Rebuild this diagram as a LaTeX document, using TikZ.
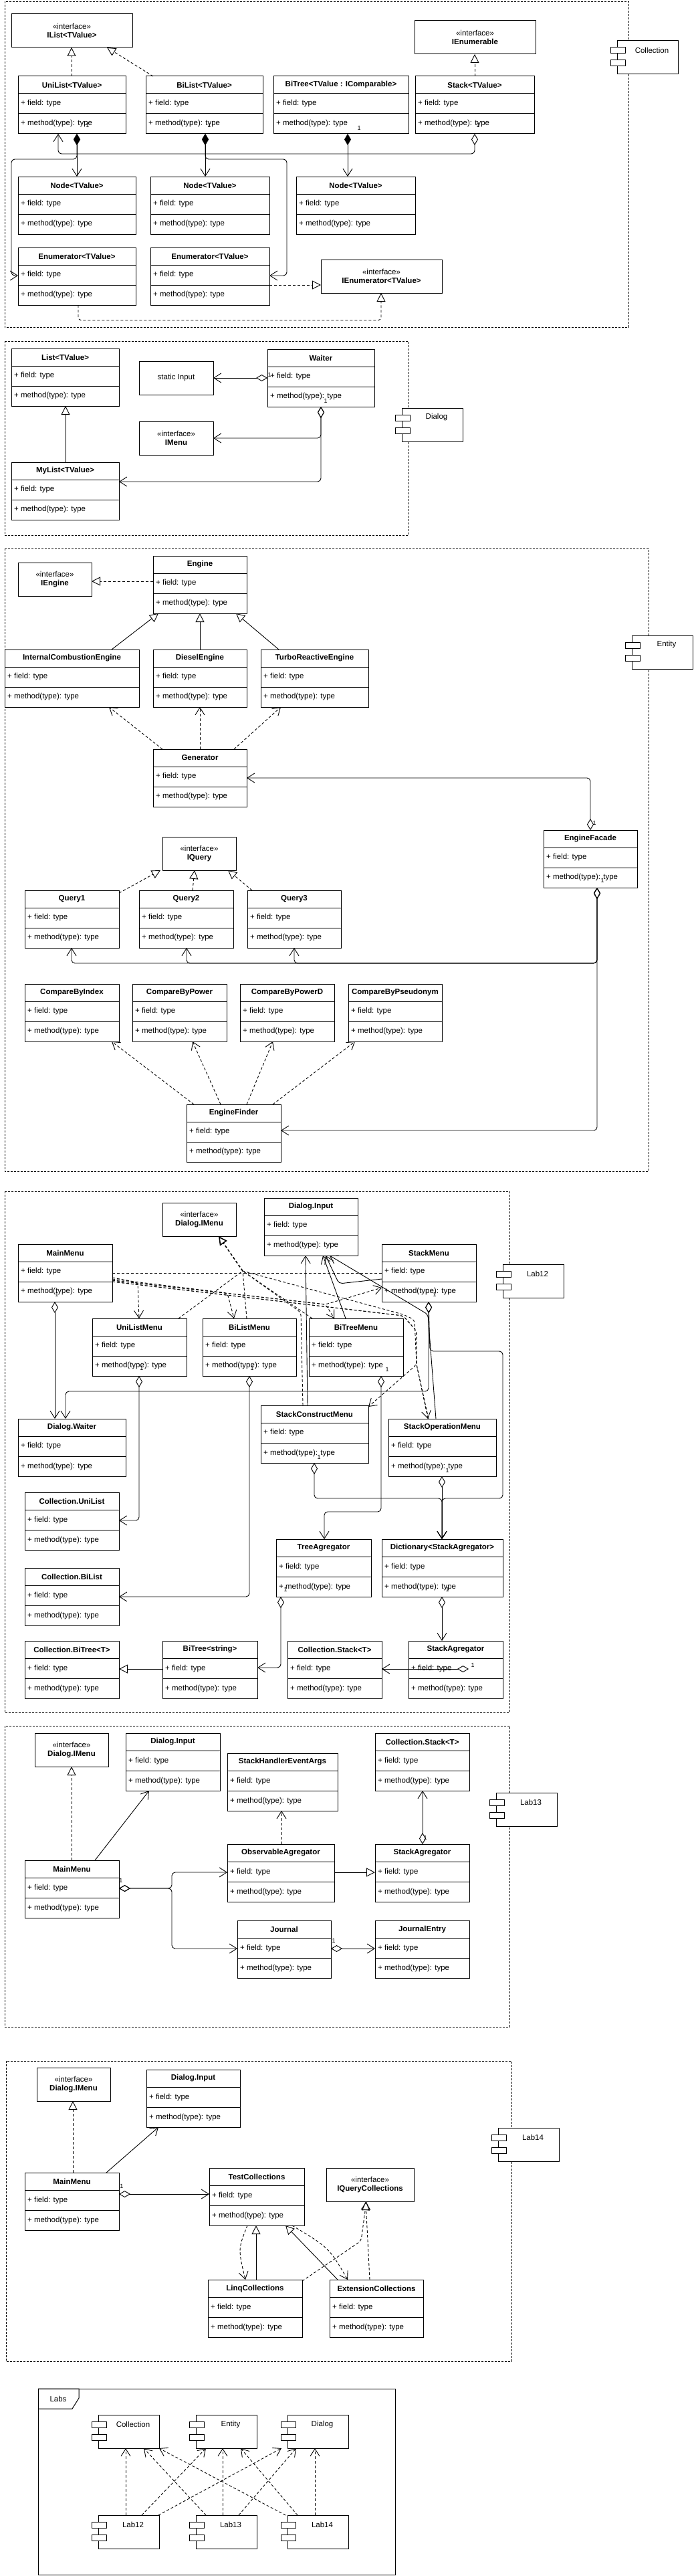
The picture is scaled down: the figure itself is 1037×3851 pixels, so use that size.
\documentclass[tikz,border=0pt]{standalone}
\usepackage{fontspec}
\setmainfont{Liberation Sans}
\usetikzlibrary{arrows.meta, positioning}
\newcommand{\umlfont}{\fontsize{11.5pt}{13.5pt}\selectfont}
\tikzset{
  barb/.tip={Straight Barb[length=11pt,width=14pt]},
  tri/.tip={Triangle[open,length=13pt,width=13pt]},
  odia/.tip={Diamond[open,length=17pt,width=10pt]},
  fdia/.tip={Diamond[length=17pt,width=10pt]},
  box/.style={draw, line width=1pt, fill=white, inner sep=0pt, outer sep=0pt, anchor=north west},
  classbox/.style={box, minimum height=86pt},
  ifacebox/.style={box, align=center, font=\umlfont},
  compbox/.style={box, minimum width=91pt, minimum height=50pt},
  classtitle/.style={font=\umlfont\bfseries, inner sep=0pt},
  member/.style={font=\umlfont, anchor=west, inner sep=0pt},
  mult/.style={font=\fontsize{9pt}{10pt}\selectfont, inner sep=0pt},
  frame/.style={draw, line width=0.8pt, dash pattern=on 3pt off 2pt},
  link/.style={draw, line width=0.9pt, rounded corners=5pt},
  assoc/.style={link, -barb},
  depend/.style={link, dash pattern=on 4pt off 3pt, -barb},
  dashline/.style={link, dash pattern=on 4pt off 3pt},
  realize/.style={link, dash pattern=on 4pt off 3pt, -tri},
  inherit/.style={link, -tri},
  aggr/.style={link, odia-barb},
  compo/.style={link, fdia-barb},
}
\newcommand{\umlclass}[5]{%
  \node[classbox, minimum width=#4pt] (#1) at (#2,#3) {};
  \draw[line width=1pt] ([yshift=-26pt]#1.north west) -- ([yshift=-26pt]#1.north east)
    ([yshift=-56pt]#1.north west) -- ([yshift=-56pt]#1.north east);
  \node[classtitle] (#1-title) at ([yshift=-13pt]#1.north) {#5};
  \node[member] (#1-field) at ([xshift=4pt,yshift=-41pt]#1.north west) {+ field: type};
  \node[member] (#1-method) at ([xshift=4pt,yshift=-71pt]#1.north west) {+ method(type): type};
}
\newcommand{\umliface}[6]{%
  \node[ifacebox, minimum width=#4pt, minimum height=#5pt] (#1) at (#2,#3) {«interface»\\\textbf{#6}};
}
\newcommand{\umlcomp}[4]{%
  \node[compbox] (#1) at (#2,#3) {};
  \draw[line width=1pt, fill=white] ([xshift=-10pt,yshift=-10pt]#1.north west) rectangle ([xshift=12pt,yshift=-19pt]#1.north west)
    ([xshift=-10pt,yshift=-29pt]#1.north west) rectangle ([xshift=12pt,yshift=-38pt]#1.north west);
  \node[member, anchor=center] (#1-name) at ([xshift=52pt,yshift=-14pt]#1.north west) {#4};
}

\begin{document}
\begin{tikzpicture}[x=1pt, y=-1pt]
\useasboundingbox (0,0) rectangle (1037,3851);

\draw[frame] (7,2) rectangle (940,489);
\draw[frame] (7,510) rectangle (611,800);
\draw[frame] (7,820) rectangle (970,1751);
\draw[frame] (7,1781) rectangle (762,2560);
\draw[frame] (7,2580) rectangle (762,3030);
\draw[frame] (9,3081) rectangle (765,3530);

\umliface{iList}{17}{21}{181}{50}{IList<TValue>}
\umliface{iEnumerable}{620}{31}{181}{50}{IEnumerable}
\umlclass{uniList}{27}{114}{161}{UniList<TValue>}
\umlclass{biList}{218}{114}{175}{BiList<TValue>}
\umlclass{biTree}{409}{114}{202}{BiTree<TValue : IComparable>}
\umlclass{stack}{621}{114}{178}{Stack<TValue>}
\umlclass{nodeA}{27}{264}{176}{Node<TValue>}
\umlclass{nodeB}{225}{264}{178}{Node<TValue>}
\umlclass{nodeC}{443}{264}{178}{Node<TValue>}
\umlclass{enumA}{27}{370}{176}{Enumerator<TValue>}
\umlclass{enumB}{225}{370}{178}{Enumerator<TValue>}
\umliface{iEnumerator}{480}{388}{181}{50}{IEnumerator<TValue>}
\umlcomp{collectionComp}{923}{61}{Collection}

\umlclass{list}{17}{521}{161}{List<TValue>}
\node[ifacebox, minimum width=111pt, minimum height=50pt] (staticInput) at (208,540) {static Input};
\umlclass{waiter}{400}{522}{160}{Waiter}
\umliface{iMenu}{208}{630}{111}{50}{IMenu}
\umlclass{myList}{17}{691}{161}{MyList<TValue>}
\umlcomp{dialogComp}{601}{610}{Dialog}

\umliface{iEngine}{27}{841}{110}{50}{IEngine}
\umlclass{engine}{229}{831}{140}{Engine}
\umlclass{iceEngine}{7}{971}{201}{InternalCombustionEngine}
\umlclass{dieselEngine}{229}{971}{140}{DieselEngine}
\umlclass{turboEngine}{390}{971}{161}{TurboReactiveEngine}
\umlclass{generator}{229}{1120}{140}{Generator}
\umlclass{engineFacade}{813}{1241}{140}{EngineFacade}
\umliface{iQuery}{243}{1251}{110}{50}{IQuery}
\umlclass{queryA}{37}{1331}{141}{Query1}
\umlclass{queryB}{208}{1331}{141}{Query2}
\umlclass{queryC}{370}{1331}{140}{Query3}
\umlclass{byIndex}{37}{1471}{141}{CompareByIndex}
\umlclass{byPower}{198}{1471}{141}{CompareByPower}
\umlclass{byPowerD}{359}{1471}{141}{CompareByPowerD}
\umlclass{byPseudonym}{521}{1471}{140}{CompareByPseudonym}
\umlclass{engineFinder}{279}{1651}{141}{EngineFinder}
\umlcomp{entityComp}{945}{950}{Entity}

\umliface{dlgMenu12}{243}{1798}{110}{50}{Dialog.IMenu}
\umlclass{dlgInput12}{395}{1791}{140}{Dialog.Input}
\umlclass{mainMenu12}{27}{1860}{141}{MainMenu}
\umlclass{stackMenu12}{571}{1860}{141}{StackMenu}
\umlclass{uniListMenu}{138}{1971}{141}{UniListMenu}
\umlclass{biListMenu}{303}{1971}{140}{BiListMenu}
\umlclass{biTreeMenu}{462}{1971}{141}{BiTreeMenu}
\umlclass{dlgWaiter12}{27}{2121}{161}{Dialog.Waiter}
\umlclass{stackConstruct}{390}{2101}{161}{StackConstructMenu}
\umlclass{stackOperation}{581}{2121}{161}{StackOperationMenu}
\umlclass{colUniList}{37}{2231}{141}{Collection.UniList}
\umlclass{treeAgr}{413}{2301}{142}{TreeAgregator}
\umlclass{dictAgr}{571}{2301}{181}{Dictionary<StackAgregator>}
\umlclass{colBiList}{37}{2344}{141}{Collection.BiList}
\umlclass{colBiTree}{37}{2453}{141}{Collection.BiTree<T>}
\umlclass{biTreeStr}{243}{2453}{142}{BiTree<string>}
\umlclass{colStack12}{430}{2453}{141}{Collection.Stack<T>}
\umlclass{stackAgr12}{611}{2453}{141}{StackAgregator}
\umlcomp{lab12Comp}{752}{1890}{Lab12}

\umliface{dlgMenu13}{52}{2591}{110}{50}{Dialog.IMenu}
\umlclass{dlgInput13}{188}{2591}{141}{Dialog.Input}
\umlclass{stackArgs}{340}{2621}{165}{StackHandlerEventArgs}
\umlclass{colStack13}{561}{2591}{141}{Collection.Stack<T>}
\umlclass{mainMenu13}{37}{2781}{141}{MainMenu}
\umlclass{obsAgr}{340}{2757}{160}{ObservableAgregator}
\umlclass{stackAgr13}{561}{2757}{141}{StackAgregator}
\umlclass{journal}{355}{2871}{140}{Journal}
\umlclass{journalEntry}{561}{2871}{141}{JournalEntry}
\umlcomp{lab13Comp}{742}{2680}{Lab13}

\umliface{dlgMenu14}{55}{3091}{110}{50}{Dialog.IMenu}
\umlclass{dlgInput14}{219}{3094}{140}{Dialog.Input}
\umlclass{mainMenu14}{37}{3248}{141}{MainMenu}
\umlclass{testCol}{313}{3241}{142}{TestCollections}
\umliface{iQueryCol}{488}{3241}{131}{50}{IQueryCollections}
\umlclass{linqCol}{311}{3408}{141}{LinqCollections}
\umlclass{extCol}{493}{3408}{140}{ExtensionCollections}
\umlcomp{lab14Comp}{745}{3181}{Lab14}

\node[box, minimum width=534pt, minimum height=278pt] (labsFrame) at (57,3571) {};
\draw[line width=1pt] (labsFrame.north west) -- (118,3571) -- (118,3585) -- (108,3601) -- (57,3601);
\node[member, anchor=center] (labsName) at (87,3586) {Labs};
\umlcomp{pkgCollection}{147}{3610}{Collection}
\umlcomp{pkgEntity}{293}{3610}{Entity}
\umlcomp{pkgDialog}{430}{3610}{Dialog}
\umlcomp{pkgLab12}{147}{3760}{Lab12}
\umlcomp{pkgLab13}{293}{3760}{Lab13}
\umlcomp{pkgLab14}{430}{3760}{Lab14}

\draw[realize] (uniList.north -| 107,0) -- (iList.south -| 107,0);
\draw[realize] (biList.north -| 229,0) -- (iList.south -| 160,0);
\draw[realize] (stack.north -| 710,0) -- (iEnumerable.south -| 710,0);
\draw[aggr] (stack.south -| 710,0) -- (710,230) -- (87,230) -- (uniList.south -| 87,0);
\draw[compo] (uniList.south -| 115,0) -- (nodeA.north -| 115,0);
\draw[compo] (uniList.south -| 115,0) -- (115,238) -- (17,238) -- (17,412) -- (enumA.west |- 0,412);
\draw[compo] (biList.south -| 307,0) -- (nodeB.north -| 307,0);
\draw[compo] (biList.south -| 307,0) -- (307,238) -- (429,238) -- (429,412) -- (enumB.east |- 0,412);
\draw[compo] (biTree.south -| 520,0) -- (nodeC.north -| 520,0);
\draw[realize] (enumB.east |- 0,426) -- (iEnumerator.west |- 0,426);
\draw[realize] (enumA.south -| 117,0) -- (117,479) -- (570,479) -- (iEnumerator.south -| 570,0);

\draw[inherit] (myList.north -| 98,0) -- (list.south -| 98,0);
\draw[aggr] (waiter.west |- 0,565) -- (staticInput.east |- 0,565);
\draw[aggr] (waiter.south -| 480,0) -- (480,655) -- (iMenu.east |- 0,655);
\draw[aggr] (waiter.south -| 480,0) -- (480,720) -- (myList.east |- 0,720);

\draw[realize] (engine.west |- 0,869) -- (iEngine.east |- 0,869);
\draw[inherit] (iceEngine.north -| 167,0) -- (engine.south -| 237,0);
\draw[inherit] (dieselEngine.north) -- (engine.south);
\draw[inherit] (turboEngine.north -| 417,0) -- (engine.south -| 353,0);
\draw[depend] (generator.north -| 243,0) -- (iceEngine.south -| 163,0);
\draw[depend] (generator.north) -- (dieselEngine.south);
\draw[depend] (generator.north -| 350,0) -- (turboEngine.south -| 420,0);
\draw[aggr] (engineFacade.north -| 883,0) -- (883,1163) -- (generator.east |- 0,1163);
\draw[realize] ([yshift=-4pt]queryA.north east) -- (iQuery.south -| 240,0);
\draw[realize] (queryB.north -| 288,0) -- (iQuery.south -| 291,0);
\draw[realize] (queryC.north -| 377,0) -- (iQuery.south -| 341,0);
\draw[aggr] (engineFacade.south -| 893,0) -- (893,1440) -- (107,1440) -- (queryA.south -| 107,0);
\draw[aggr] (engineFacade.south -| 893,0) -- (893,1440) -- (279,1440) -- (queryB.south -| 279,0);
\draw[aggr] (engineFacade.south -| 893,0) -- (893,1440) -- (440,1440) -- (queryC.south -| 440,0);
\draw[aggr] (engineFacade.south -| 893,0) -- (893,1690) -- (engineFinder.east |- 0,1690);
\draw[depend] (engineFinder.north -| 290,0) -- (byIndex.south -| 167,0);
\draw[depend] (engineFinder.north -| 330,0) -- (byPower.south -| 288,0);
\draw[depend] (engineFinder.north -| 369,0) -- (byPowerD.south -| 408,0);
\draw[depend] (engineFinder.north -| 408,0) -- (byPseudonym.south -| 531,0);

\coordinate (menuHub) at (363,1900);
\draw[realize, line width=1.6pt] (menuHub) -- (dlgMenu12.south -| 327,0);
\draw[dashline] (mainMenu12.east |- 0,1903) -- (stackMenu12.west |- 0,1903);
\draw[dashline] (uniListMenu.north -| 267,0) -- (menuHub);
\draw[dashline] (biListMenu.north -| 369,0) -- (menuHub);
\draw[dashline] (biTreeMenu.north -| 467,0) -- (menuHub);
\draw[dashline] (stackConstruct.north -| 453,0) -- (450,1962) -- (menuHub);
\draw[dashline] (stackOperation.north -| 641,0) -- (623,2040) -- (620,1973) -- (603,1965) -- (menuHub);
\draw[depend] (mainMenu12.east |- 0,1910) -- (206,1917) -- (uniListMenu.north -| 208,0);
\draw[depend] (mainMenu12.east |- 0,1912) -- (340,1933) -- (biListMenu.north -| 350,0);
\draw[depend] (mainMenu12.east |- 0,1914) -- (487,1950) -- (biTreeMenu.north -| 500,0);
\draw[depend] (mainMenu12.east |- 0,1914) -- (487,1950) -- (stackMenu12.west |- 0,1925);
\draw[depend] (mainMenu12.east |- 0,1916) -- (603,1967) -- (623,1990) -- (623,2040) -- ([yshift=-2pt]stackConstruct.north east);
\draw[depend] (mainMenu12.east |- 0,1916) -- (603,1967) -- (623,1990) -- (623,2040) -- (stackOperation.north -| 640,0);
\draw[assoc] (stackConstruct.north -| 460,0) -- (dlgInput12.south -| 457,0);
\draw[assoc] (biTreeMenu.north -| 517,0) -- (dlgInput12.south -| 483,0);
\draw[assoc] (stackOperation.north -| 652,0) -- (640,1965) -- (dlgInput12.south -| 493,0);
\draw[assoc] (stackMenu12.west |- 0,1912) -- (507,1919) -- (dlgInput12.south -| 487,0);
\draw[aggr] (mainMenu12.south -| 82,0) -- (dlgWaiter12.north -| 82,0);
\draw[aggr] (stackMenu12.south -| 641,0) -- (641,2080) -- (98,2080) -- (dlgWaiter12.north -| 98,0);
\draw[aggr] (stackMenu12.south -| 641,0) -- (643,2020) -- (752,2020) -- (752,2240) -- (661,2240) -- (dictAgr.north -| 661,0);
\draw[aggr] (uniListMenu.south -| 208,0) -- (208,2273) -- (colUniList.east |- 0,2273);
\draw[aggr] (biListMenu.south -| 373,0) -- (373,2387) -- (colBiList.east |- 0,2387);
\draw[aggr] (biTreeMenu.south -| 570,0) -- (570,2260) -- (485,2260) -- (treeAgr.north -| 485,0);
\draw[aggr] (stackConstruct.south -| 470,0) -- (470,2240) -- (661,2240) -- (dictAgr.north -| 661,0);
\draw[aggr] (stackOperation.south -| 661,0) -- (dictAgr.north -| 661,0);
\draw[aggr] (treeAgr.south -| 420,0) -- (420,2493) -- (biTreeStr.east |- 0,2493);
\draw[aggr] (dictAgr.south -| 661,0) -- (stackAgr12.north -| 661,0);
\coordinate (stackAgrEnd) at (701,2495);
\draw[aggr] (stackAgrEnd) -- (colStack12.east |- 0,2495);
\draw[inherit] (biTreeStr.west |- 0,2495) -- (colBiTree.east |- 0,2495);

\draw[realize] (mainMenu13.north -| 107,0) -- (dlgMenu13.south -| 107,0);
\draw[assoc] (mainMenu13.north -| 142,0) -- (dlgInput13.south -| 223,0);
\draw[aggr] (mainMenu13.east |- 0,2823) -- (257,2823) -- (257,2799) -- (obsAgr.west |- 0,2799);
\draw[aggr] (mainMenu13.east |- 0,2823) -- (257,2823) -- (257,2913) -- (journal.west |- 0,2913);
\draw[depend] (obsAgr.north -| 421,0) -- (stackArgs.south -| 421,0);
\draw[inherit] (obsAgr.east |- 0,2799) -- (stackAgr13.west |- 0,2799);
\draw[aggr] (stackAgr13.north -| 632,0) -- (colStack13.south -| 632,0);
\draw[aggr] (journal.east |- 0,2913) -- (journalEntry.west |- 0,2913);

\draw[realize] (mainMenu14.north -| 109,0) -- (dlgMenu14.south -| 109,0);
\draw[assoc] (mainMenu14.north -| 159,0) -- (dlgInput14.south -| 237,0);
\draw[aggr] (mainMenu14.east |- 0,3280) -- (testCol.west |- 0,3280);
\draw[inherit] (linqCol.north -| 383,0) -- (testCol.south -| 383,0);
\draw[inherit] (extCol.north -| 505,0) -- (testCol.south -| 427,0);
\draw[depend] (testCol.south -| 370,0) .. controls (356,3362) .. (linqCol.north -| 367,0);
\draw[depend] (testCol.south -| 437,0) .. controls (492,3360) .. (extCol.north -| 520,0);
\draw[realize] ([yshift=-2pt]linqCol.north east) -- (540,3350) -- (iQueryCol.south -| 548,0);
\draw[realize] (extCol.north -| 553,0) -- (iQueryCol.south -| 547,0);

\foreach \src/\sx/\dst/\dx in {pkgLab12/188/pkgCollection/188, pkgLab12/212/pkgEntity/308, pkgLab12/237/pkgDialog/421,
  pkgLab13/308/pkgCollection/215, pkgLab13/333/pkgEntity/333, pkgLab13/357/pkgDialog/443,
  pkgLab14/427/pkgCollection/238, pkgLab14/445/pkgEntity/360, pkgLab14/471/pkgDialog/471}
  \draw[depend] (\src.north -| \sx,0) -- (\dst.south -| \dx,0);

\foreach \mx/\my [count=\i] in {131/187, 313/187, 537/191, 715/187, 403/560, 487/599, 889/1230, 901/1316,
  85/1935, 650/1935, 212/2045, 377/2045, 579/2047, 477/2178, 669/2198, 427/2376, 669/2376, 707/2489,
  181/2811, 499/2901, 636/2747, 182/3268}
  \node[mult] (mult\i) at (\mx,\my) {1};
\end{tikzpicture}
\end{document}
